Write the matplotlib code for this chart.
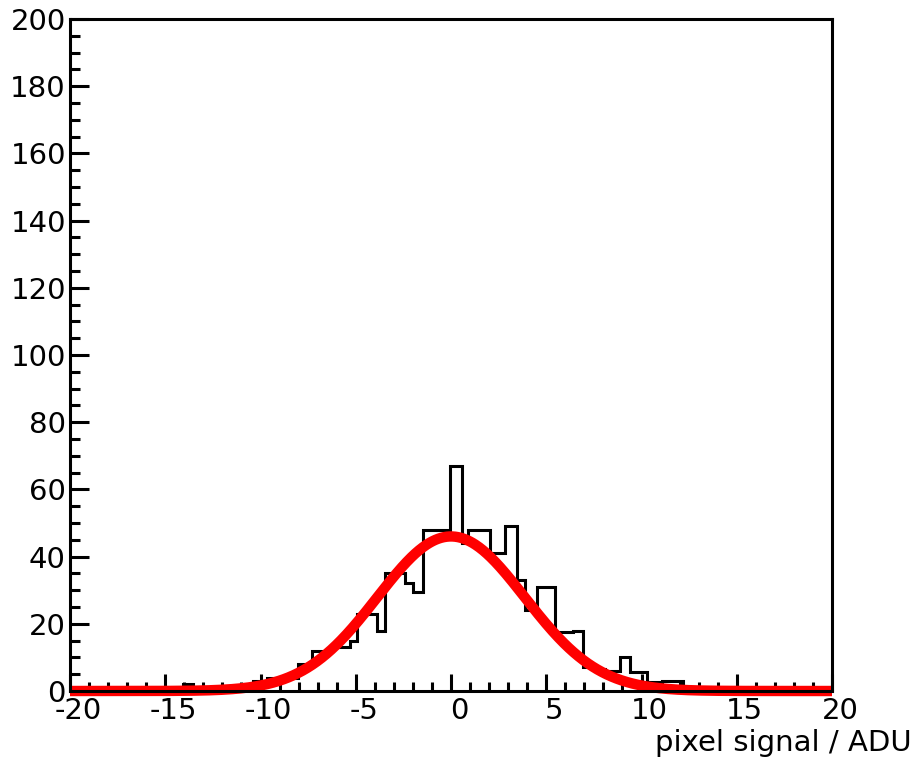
import numpy as np
import matplotlib.pyplot as plt
import matplotlib.transforms as mtransforms
from matplotlib.ticker import MultipleLocator

plt.rcParams['font.family'] = ['DejaVu Sans']
plt.rcParams['axes.unicode_minus'] = False

# histogram bin edges (ADU) and counts
edges = [-20.0, -14.07, -13.54, -12.0, -10.39, -9.66, -8.03, -7.3, -6.35, -5.3,
         -4.93, -3.88, -3.46, -2.41, -2.0, -1.47, -0.05, 0.58, 0.89, 2.05,
         2.83, 3.46, 3.88, 4.51, 5.46, 6.4, 6.93, 7.4, 8.08, 8.87,
         9.4, 10.29, 11.08, 12.18, 20.0]
counts = [0, 2, 0, 1, 3, 4, 8, 12, 13, 15,
          23, 18, 35, 32, 29.5, 48, 67, 44, 48, 41,
          49, 33, 24, 31, 17.5, 18, 7, 6.5, 6, 10,
          5.6, 2.7, 3, 0]

# gaussian fit parameters
amp = 46.0
mean = 0.0
sigma = 3.87

fig = plt.figure(figsize=(9.16, 7.63), dpi=100)
ax = fig.add_axes([70/916, 1-691/763, 762/916, 672/763])

ax.stairs(counts, edges, color='black', linewidth=2.2)

xf = np.linspace(-20, 20, 800)
yf = amp * np.exp(-0.5 * ((xf - mean) / sigma) ** 2)
ax.plot(xf, yf, color='#ff0000', linewidth=7.5, solid_capstyle='butt', clip_on=False)

ax.set_xlim(-20, 20)
ax.set_ylim(0, 200)

ax.xaxis.set_major_locator(MultipleLocator(5))
ax.xaxis.set_minor_locator(MultipleLocator(1))
ax.yaxis.set_major_locator(MultipleLocator(20))
ax.yaxis.set_minor_locator(MultipleLocator(5))

ax.tick_params(which='both', direction='in', top=False, right=False, width=2.2,
               labelsize=21, colors='black')
ax.tick_params(axis='y', which='major', length=14, pad=3)
ax.tick_params(axis='y', which='minor', length=7)
ax.tick_params(axis='x', which='major', length=12, pad=4)
ax.tick_params(axis='x', which='minor', length=6.5)

# ROOT-like: x labels sit a bit right of their ticks
shift = mtransforms.ScaledTranslation(8/100, 0, fig.dpi_scale_trans)
for lab in ax.get_xticklabels():
    lab.set_transform(lab.get_transform() + shift)

for s in ax.spines.values():
    s.set_linewidth(2.2)

ax.set_xlabel('pixel signal / ADU', fontsize=21, loc='right')
ax.xaxis.set_label_coords((912-70)/762, -(729-691)/672)

fig.savefig('out.png', dpi=100)
